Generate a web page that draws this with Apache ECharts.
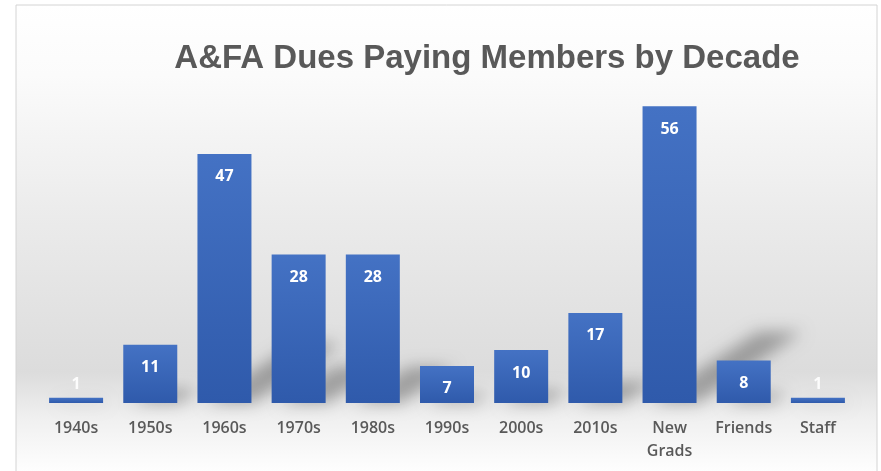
<!DOCTYPE html>
<html>
<head>
<meta charset="utf-8">
<script src="https://cdn.jsdelivr.net/npm/echarts@6/dist/echarts.min.js"></script>
<style>
  html, body { margin: 0; padding: 0; background: #fff; }
  #chart { width: 881px; height: 471px; }
</style>
</head>
<body>
<div id="chart"></div>
<script>
const categories = ["1940s", "1950s", "1960s", "1970s", "1980s", "1990s", "2000s", "2010s", "New\nGrads", "Friends", "Staff"];
const members = [1, 11, 47, 28, 28, 7, 10, 17, 56, 8, 1];

const chart = echarts.init(document.getElementById("chart"));

// tiny bars get their label above the bar, like the excel original
const barData = members.map((v) =>
  v < 3
    ? { value: v, label: { position: "top", distance: 5, color: "rgba(255,255,255,0.9)" } }
    : v
);

const SHIFT = 2000; // shape drawn off-canvas, only its blurred shadow lands in view

const option = {
  animation: false,
  graphic: [
    {
      type: "rect",
      z: -10,
      shape: { x: 16, y: 5, width: 861, height: 470 },
      style: {
        fill: new echarts.graphic.LinearGradient(0, 0, 0, 1, [
          { offset: 0, color: "#ffffff" },
          { offset: 0.15, color: "#fbfbfb" },
          { offset: 0.45, color: "#ebebeb" },
          { offset: 0.78, color: "#dcdcdc" },
          { offset: 0.88, color: "#f0f0f0" },
          { offset: 1, color: "#ffffff" },
        ]),
        stroke: "#d4d4d4",
        lineWidth: 1,
      },
    },
  ],
  title: {
    text: "A&FA Dues Paying Members by Decade",
    left: 482,
    top: 37,
    textAlign: "center",
    textStyle: {
      fontFamily: "Liberation Sans",
      fontWeight: "bold",
      fontSize: 33,
      color: "#595959",
    },
  },
  grid: { left: 39, right: 26, top: 85, bottom: 68 },
  xAxis: {
    type: "category",
    data: categories,
    axisLine: { show: false },
    axisTick: { show: false },
    axisLabel: {
      margin: 14,
      fontFamily: "Open Sans",
      fontWeight: 600,
      fontSize: 16,
      lineHeight: 23,
      color: "#595959",
    },
  },
  yAxis: {
    type: "value",
    min: 0,
    max: 60,
    show: false,
    splitLine: { show: false },
  },
  series: [
    {
      // soft perspective shadow behind each bar
      type: "custom",
      z: 1,
      silent: true,
      clip: false,
      data: members,
      renderItem: function (params, api) {
        const base = api.coord([api.value(0), 0]);
        const top = api.coord([api.value(0), api.value(1)]);
        const h = (base[1] - top[1]) * 0.24;
        const dx = h * 1.45;
        const w = 54;
        const x0 = base[0] - w / 2;
        const x1 = base[0] + w / 2;
        return {
          type: "polygon",
          shape: {
            points: [
              [x0 + 8 + SHIFT, base[1]],
              [x1 + 2 + SHIFT, base[1]],
              [x1 + dx + 2 + SHIFT, base[1] - h],
              [x0 + dx + 12 + SHIFT, base[1] - h],
            ],
          },
          style: {
            fill: "#000",
            shadowBlur: 16,
            shadowOffsetX: -SHIFT,
            shadowColor: "rgba(0,0,0,0.3)",
          },
        };
      },
      encode: { x: 0, y: 1 },
    },
    {
      type: "bar",
      z: 2,
      barWidth: 54,
      data: barData,
      itemStyle: {
        color: new echarts.graphic.LinearGradient(0, 0, 0, 1, [
          { offset: 0, color: "#4472c4" },
          { offset: 1, color: "#2f5aab" },
        ]),
      },
      label: {
        show: true,
        position: "insideTop",
        distance: 15,
        color: "#ffffff",
        fontFamily: "Open Sans",
        fontWeight: "bold",
        fontSize: 16,
      },
    },
  ],
};

chart.setOption(option);
</script>
</body>
</html>
